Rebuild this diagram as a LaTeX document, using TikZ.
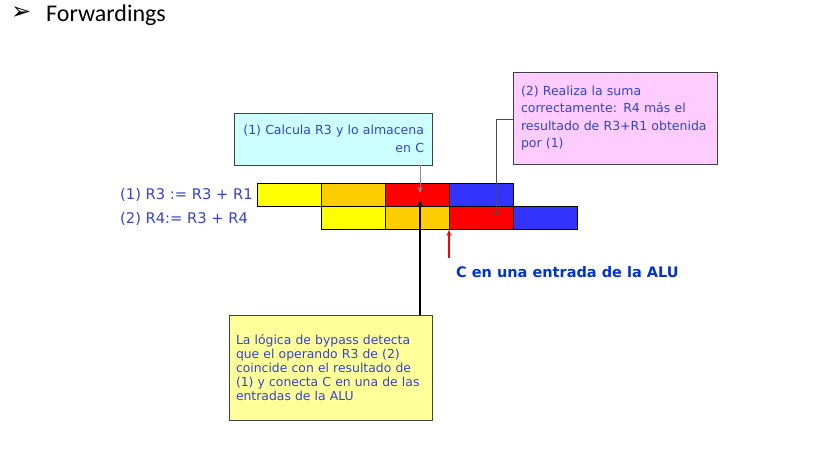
\documentclass[tikz,border=0pt]{standalone}
\usepackage{fontspec}
\setmainfont{DejaVu Sans}
\newfontfamily\titlefont{Carlito}
\usetikzlibrary{arrows.meta}
\definecolor{txtblue}{HTML}{3344CC}
\definecolor{boldblue}{HTML}{0033CC}
\definecolor{cyel}{HTML}{FFFF00}
\definecolor{corg}{HTML}{FFCC00}
\definecolor{cred}{HTML}{FF0000}
\definecolor{cblu}{HTML}{3333FF}
\definecolor{boxcyan}{HTML}{CCFFFF}
\definecolor{boxpink}{HTML}{FFCCFF}
\definecolor{boxyellow}{HTML}{FFFF99}
\begin{document}
\begin{tikzpicture}[x=1pt,y=-1pt,
  cell/.style={draw=black, line width=1.1pt, minimum width=64pt, minimum height=23pt, inner sep=0, anchor=north west},
  note/.style={draw=black!75, line width=0.8pt, text=txtblue, inner ysep=0},
  instr/.style={font=\fontsize{14.7}{16}\selectfont, text=txtblue, inner sep=0, anchor=west},
  tip/.style={-{Stealth[length=6pt,width=5pt]}},
  gline/.style={tip, draw=black!45, line width=0.9pt},
  pline/.style={tip, draw=black!70, line width=0.9pt},
  kline/.style={tip, draw=black, line width=2pt},
  rline/.style={-{Stealth[length=6pt,width=5pt]}, draw=red, line width=1.4pt}
]
\useasboundingbox (0,0) rectangle (837,453);

% title
\node[inner sep=0, anchor=base west, font=\fontsize{24}{26}\selectfont] (bullet) at (11,19.5) {➢};
\node[inner sep=0, anchor=base west, font=\titlefont\fontsize{24}{26}\selectfont] (title) at (46,21) {Forwardings};

% instruction labels
\node[instr] (i1) at (120,195) {(1) R3 := R3 + R1};
\node[instr] (i2) at (120,219) {(2) R4:= R3 + R4};

% pipeline cells
\node[cell, fill=cyel] (r1c1) at (257,183) {};
\node[cell, fill=corg] (r1c2) at (321,183) {};
\node[cell, fill=cred] (r1c3) at (385,183) {};
\node[cell, fill=cblu] (r1c4) at (449,183) {};
\node[cell, fill=cyel] (r2c1) at (321,206) {};
\node[cell, fill=corg] (r2c2) at (385,206) {};
\node[cell, fill=cred] (r2c3) at (449,206) {};
\node[cell, fill=cblu] (r2c4) at (513,206) {};

% notes
\node[note, fill=boxcyan, minimum width=198pt, minimum height=52pt, text width=182pt, inner xsep=8pt, align=right,
  font=\fontsize{12.5}{17.5}\selectfont] (cyan) at (333,139)
  {(1) Calcula R3 y lo almacena\\en C};
\node[note, fill=boxpink, minimum width=204pt, minimum height=92pt, text width=188pt, inner xsep=8pt, align=left,
  font=\fontsize{12.5}{17.3}\selectfont] (pink) at (615,118)
  {(2) Realiza la suma\\correctamente: R4 más el\\resultado de R3+R1 obtenida\\por (1)};
\node[note, fill=boxyellow, minimum width=203pt, minimum height=105pt, text width=189pt, inner xsep=7pt, align=left,
  font=\fontsize{12.4}{14}\selectfont] (yellow) at (330.5,367.5)
  {La lógica de bypass detecta\\que el operando R3 de (2)\\coincide con el resultado de\\(1) y conecta C en una de las\\entradas de la ALU};

% connectors
\coordinate (cy) at (420,193);
\draw[gline] (cyan.south -| cy) -- (cy);
\coordinate (pkt) at (496,119);
\coordinate (pk) at (496,217);
\draw[pline] (pink.west |- pkt) -- (pkt) -- (pk);
\coordinate (bk) at (420,200);
\draw[kline] (yellow.north -| bk) -- (bk);
\coordinate (rdt) at (449,258);
\coordinate (rd) at (449,230);
\draw[rline] (rdt) -- (rd);

\node[inner sep=0, anchor=west, text=boldblue, font=\bfseries\fontsize{14.5}{16}\selectfont] (alu) at (456,272)
  {C en una entrada de la ALU};
\end{tikzpicture}
\end{document}
